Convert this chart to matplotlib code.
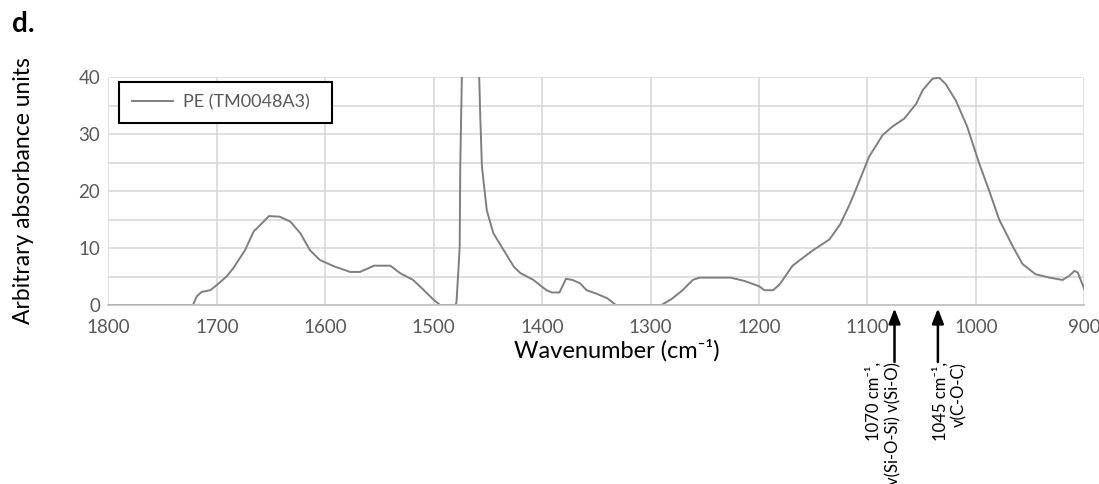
import matplotlib
matplotlib.use("Agg")
import matplotlib.pyplot as plt
from matplotlib.ticker import MultipleLocator

plt.rcParams['font.family'] = ['Lato', 'DejaVu Sans']

# spectrum (wavenumber in cm-1, absorbance in arbitrary units)
wavenumber = [1800, 1722, 1718.5, 1714, 1706, 1700, 1691, 1685, 1674, 1666,
              1657, 1652, 1642, 1632, 1623, 1614, 1605, 1592, 1577, 1568,
              1562, 1555, 1540, 1531, 1519, 1509, 1500, 1494, 1480, 1479,
              1477, 1476, 1475.5, 1474, 1470, 1466, 1462, 1458, 1457, 1455.5,
              1451, 1445, 1436, 1426, 1420, 1408, 1396, 1391, 1384, 1378,
              1372, 1365, 1359, 1350, 1340, 1332, 1290, 1281, 1271, 1261,
              1255, 1226, 1213, 1200, 1195, 1187, 1181, 1169, 1151, 1135,
              1125, 1116, 1108, 1098.5, 1086, 1077, 1066, 1055, 1049, 1040,
              1034, 1028, 1018.5, 1008, 997, 988, 978.5, 966, 957, 945,
              932, 920, 914, 909, 906, 900]
absorbance = [0, 0, 1.5, 2.3, 2.6, 3.5, 5.0, 6.4, 9.6, 12.9,
              14.6, 15.6, 15.5, 14.6, 12.6, 9.6, 7.9, 6.8, 5.8, 5.8,
              6.3, 6.9, 6.9, 5.6, 4.4, 2.6, 0.9, 0, 0, 0.4,
              6.7, 10.2, 24, 40, 70, 85, 65, 40, 33, 24.3,
              16.6, 12.6, 9.8, 6.7, 5.6, 4.4, 2.6, 2.2, 2.2, 4.6,
              4.4, 3.8, 2.6, 2.0, 1.2, 0, 0, 1.0, 2.5, 4.4,
              4.8, 4.8, 4.2, 3.3, 2.6, 2.6, 3.6, 6.9, 9.5, 11.5,
              14.2, 17.8, 21.5, 26, 29.8, 31.3, 32.7, 35.3, 37.7, 39.7,
              39.9, 38.8, 35.9, 31.3, 24.9, 20.2, 15, 10.3, 7.2, 5.4,
              4.8, 4.4, 5.1, 6.0, 5.7, 2.8]

series_label = 'PE (TM0048A3)'
band_positions = [1075, 1035]
band_labels = ['1070 cm\u207b\u00b9,\nv(Si-O-Si) v(Si-O)',
               '1045 cm\u207b\u00b9,\nv(C-O-C)']
band_text_x = [1085.5, 1024]

grey_text = '#595959'
grid_col = '#d9d9d9'

fig = plt.figure(figsize=(10.99, 4.84), dpi=100)
ax = fig.add_axes([0.0986, 0.3698, 0.8880, 0.4711])

ax.plot(wavenumber, absorbance, color='#7f7f7f', lw=1.4, label=series_label)

ax.set_xlim(1800, 900)
ax.set_ylim(0, 40)
ax.xaxis.set_major_locator(MultipleLocator(100))
ax.yaxis.set_major_locator(MultipleLocator(10))
ax.yaxis.set_minor_locator(MultipleLocator(5))
ax.grid(True, which='major', color=grid_col, lw=1.2)
ax.grid(True, which='minor', axis='y', color=grid_col, lw=1.2)
ax.set_axisbelow(True)

for side in ['top', 'left', 'right']:
    ax.spines[side].set_visible(False)
ax.spines['bottom'].set_color('#bfbfbf')
ax.spines['bottom'].set_linewidth(1.2)

ax.tick_params(axis='x', length=0, pad=10, labelsize=13.5, labelcolor=grey_text)
ax.tick_params(axis='y', which='both', length=0, pad=6, labelsize=13.5, labelcolor=grey_text)

ax.set_ylabel('Arbitrary absorbance units', fontsize=16.5)
ax.yaxis.set_label_coords(-0.076, 0.5)
ax.set_xlabel('Wavenumber (cm\u207b\u00b9)', fontsize=17)
ax.xaxis.set_label_coords(0.521, -0.15)

leg = ax.legend(loc='upper left', bbox_to_anchor=(0.011, 0.98), fontsize=13,
                fancybox=False, edgecolor='black', framealpha=1,
                handlelength=2.3, borderpad=0.7, handletextpad=0.55,
                borderaxespad=0)
leg.get_frame().set_linewidth(1.5)
for t in leg.get_texts():
    t.set_color(grey_text)
    t.set_text(t.get_text() + '  ')

# band markers below the axis
for pos, lab, tx in zip(band_positions, band_labels, band_text_x):
    ax.annotate('', xy=(pos, -0.015), xytext=(pos, -0.25),
                xycoords=('data', 'axes fraction'), textcoords=('data', 'axes fraction'),
                arrowprops=dict(arrowstyle='-|>,head_length=0.9,head_width=0.35',
                                color='black', lw=1.8, shrinkA=0, shrinkB=0),
                annotation_clip=False)
    ax.text(tx, -0.25, lab, transform=ax.get_xaxis_transform(),
            rotation=90, ha='center', va='top', multialignment='right',
            fontsize=12, linespacing=1.25, clip_on=False)

fig.text(0.011, 0.95, 'd.', fontsize=20, fontweight='bold', va='center', ha='left')

fig.savefig('out.png', dpi=100)
